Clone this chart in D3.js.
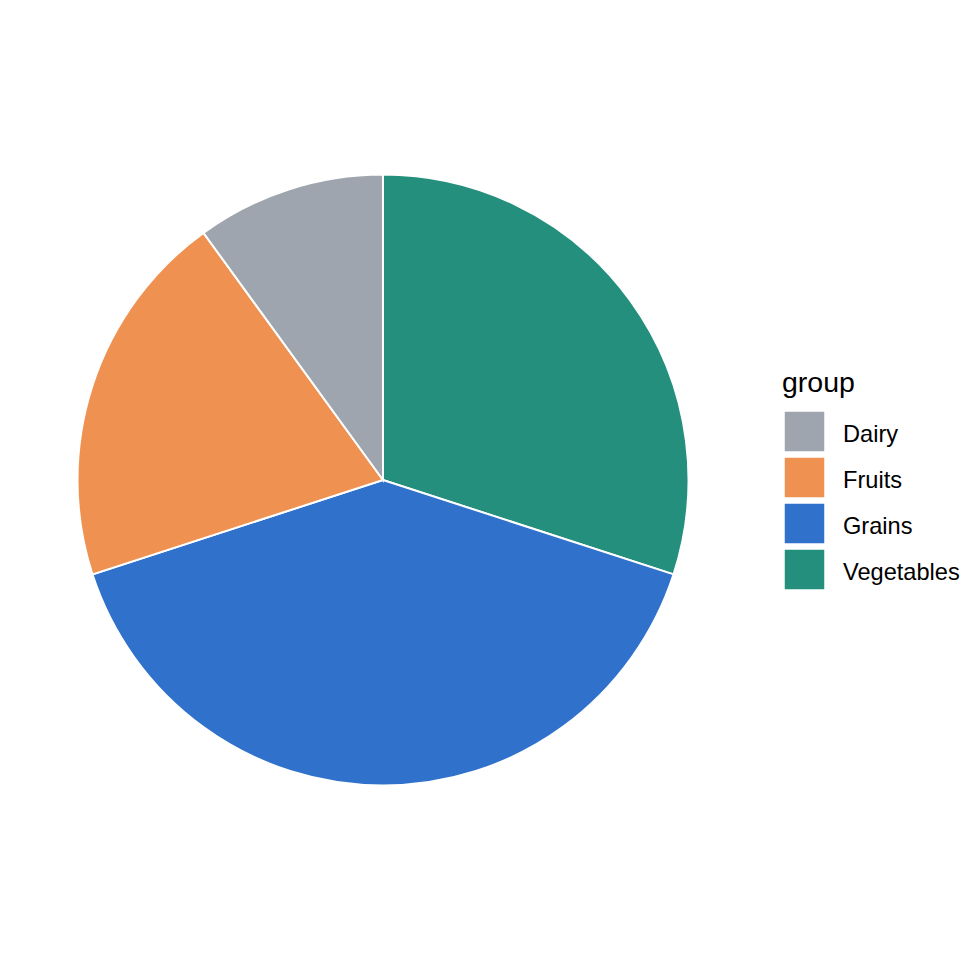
<!doctype html>
<html>
  <head>
    <meta charset="utf-8" />
    <style>
      body { margin: 0; background: #fff; }
      text { font-family: "Liberation Sans", Arial, sans-serif; fill: #000; }
    </style>
  </head>
  <body>
    <div id="chart"></div>
    <script src="https://cdn.jsdelivr.net/npm/d3@7"></script>
    <script>
      var groups = ["Dairy", "Fruits", "Grains", "Vegetables"];
      var values = [10, 20, 40, 30];
      var colors = ["#9EA5AE", "#EF9150", "#2F71CB", "#248F7C"];

      var width = 960, height = 960;
      var cx = 383, cy = 480, radius = 305.5;

      var svg = d3.select("#chart").append("svg")
                  .attr("width", width)
                  .attr("height", height);

      var color = d3.scaleOrdinal().domain(groups).range(colors);

      var data = groups.map(function(g, i) { return {group: g, value: values[i]}; });

      // ggplot stacks in reverse, so draw clockwise from the top: last group first
      var pie = d3.pie()
                  .sort(null)
                  .value(function(d) { return d.value; });
      var arcs = pie(data.slice().reverse());

      var arc = d3.arc().innerRadius(0).outerRadius(radius);

      var g = svg.append("g")
                 .attr("transform", "translate(" + cx + "," + cy + ")");

      g.selectAll("path")
       .data(arcs)
       .enter().append("path")
       .attr("d", arc)
       .style("fill", function(d) { return color(d.data.group); })
       .style("stroke", "#fff")
       .style("stroke-width", 2);

      // legend
      var legend = svg.append("g").attr("transform", "translate(784,0)");
      legend.append("text")
            .attr("x", -2)
            .attr("y", 392)
            .style("font-size", "28.5px")
            .text("group");

      var item = legend.selectAll(".item")
                       .data(groups)
                       .enter().append("g")
                       .attr("class", "item")
                       .attr("transform", function(d, i) { return "translate(0," + (411 + i * 46) + ")"; });

      item.append("rect")
          .attr("width", 41)
          .attr("height", 41)
          .style("fill", function(d) { return color(d); })
          .style("stroke", "#fff")
          .style("stroke-width", 1.5);

      item.append("text")
          .attr("x", 59)
          .attr("y", 31)
          .style("font-size", "23.6px")
          .text(function(d) { return d; });
    </script>
  </body>
</html>
